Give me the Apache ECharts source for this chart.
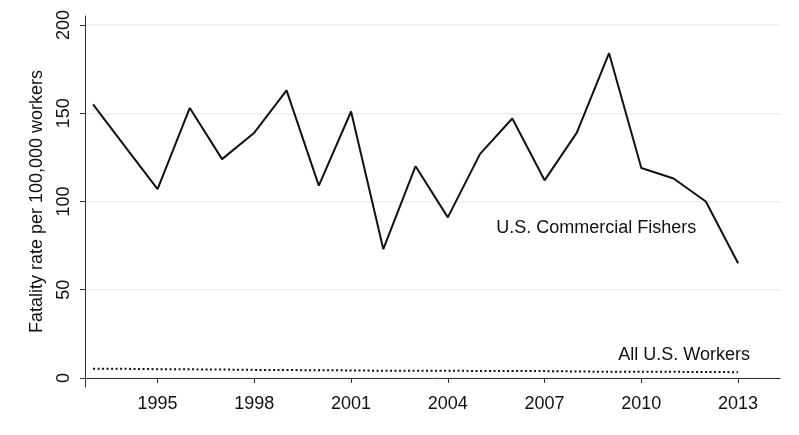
<!DOCTYPE html>
<html>
<head>
<meta charset="utf-8">
<script src="https://cdn.jsdelivr.net/npm/echarts@6/dist/echarts.min.js"></script>
<style>
  html, body { margin: 0; padding: 0; background: #fff; }
  #chart { width: 799px; height: 435px; }
</style>
</head>
<body>
<div id="chart"></div>
<script>
// years and rates (deaths per 100,000 workers)
const years = [1993, 1994, 1995, 1996, 1997, 1998, 1999, 2000, 2001, 2002, 2003,
               2004, 2005, 2006, 2007, 2008, 2009, 2010, 2011, 2012, 2013];
const fishers = [155, 131, 107, 153, 124, 139, 163, 109, 151, 73, 120,
                 91, 127, 147, 112, 139, 184, 119, 113, 100, 65];
const allWorkers = [5.2, 5.2, 5.0, 4.9, 4.8, 4.6, 4.5, 4.4, 4.3, 4.1, 4.1,
                    4.1, 4.0, 4.0, 3.9, 3.7, 3.5, 3.6, 3.5, 3.4, 3.3];
const xTicks = [1995, 1998, 2001, 2004, 2007, 2010, 2013];
const yTicks = [0, 50, 100, 150, 200];

const ink = '#111';
const font = 'Liberation Sans, Arial, sans-serif';

const chart = echarts.init(document.getElementById('chart'));

const option = {
    animation: false,
    textStyle: { fontFamily: font, color: ink },
    grid: { left: 85, right: 19, top: 16, bottom: 48 },
    xAxis: {
        type: 'value',
        min: 1992.75,
        max: 2014.3,
        axisLine: { show: true, lineStyle: { color: '#333', width: 1 } },
        axisTick: { show: true, length: 5, customValues: xTicks, lineStyle: { color: '#333' } },
        axisLabel: {
            customValues: xTicks, fontSize: 18, color: ink, margin: 8,
            formatter: v => String(v)
        },
        splitLine: { show: false }
    },
    yAxis: {
        type: 'value',
        min: -5.1,
        max: 205.1,
        name: 'Fatality rate per 100,000 workers',
        nameLocation: 'middle',
        nameGap: 39,
        nameTextStyle: { fontSize: 18, color: ink },
        axisLine: { show: true, lineStyle: { color: '#333', width: 1 } },
        axisTick: { show: true, length: 5, customValues: yTicks, lineStyle: { color: '#333' } },
        axisLabel: { customValues: yTicks, fontSize: 18, color: ink, rotate: 90, margin: 12 },
        splitLine: { show: true, lineStyle: { color: '#ececec', width: 1.5 } }
    },
    series: [
        {
            name: 'U.S. Commercial Fishers',
            type: 'line',
            data: years.map((y, i) => [y, fishers[i]]),
            symbol: 'none',
            lineStyle: { color: ink, width: 2 },
            markPoint: {
                symbolSize: 0,
                data: [{
                    coord: [2008.6, 85],
                    label: {
                        show: true, formatter: 'U.S. Commercial Fishers',
                        fontSize: 18, color: ink, fontFamily: font
                    }
                }]
            }
        },
        {
            name: 'All U.S. Workers',
            type: 'line',
            data: years.map((y, i) => [y, allWorkers[i]]),
            symbol: 'none',
            lineStyle: { color: ink, width: 2, type: [2, 2.5] },
            markPoint: {
                symbolSize: 0,
                data: [{
                    coord: [2013.37, 13],
                    label: {
                        show: true, formatter: 'All U.S. Workers', align: 'right',
                        position: 'inside', fontSize: 18, color: ink, fontFamily: font
                    }
                }]
            }
        }
    ]
};

chart.setOption(option);
</script>
</body>
</html>
